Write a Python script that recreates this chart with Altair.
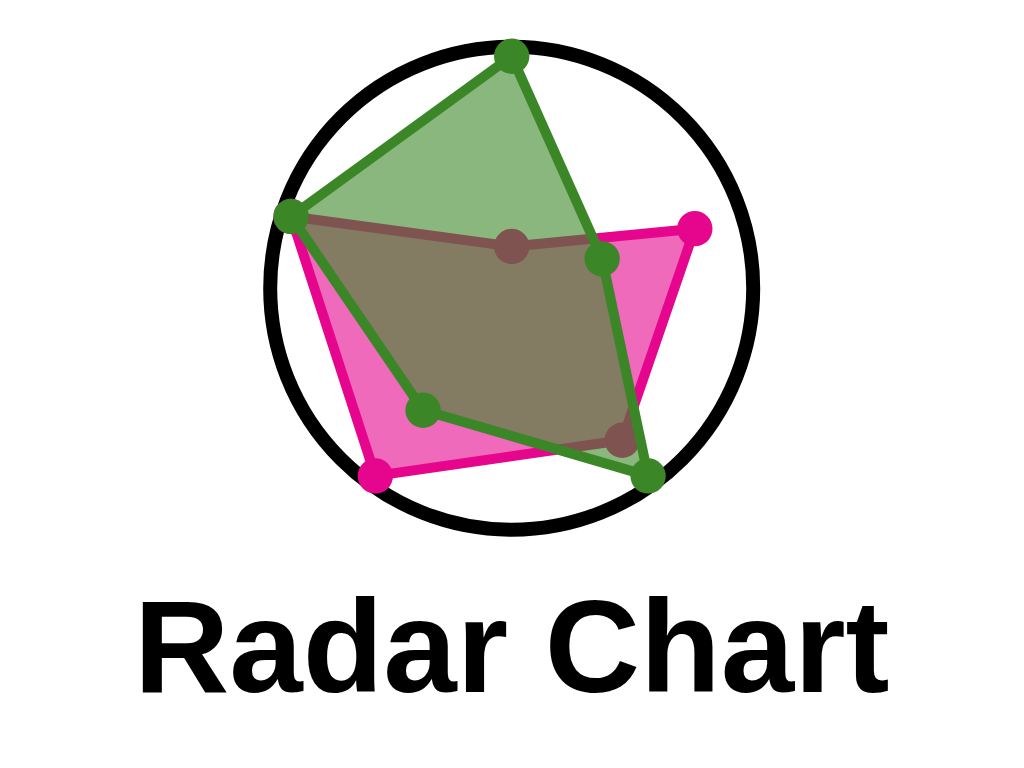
import altair as alt
import pandas as pd

# five spokes, numbered clockwise from the top
spokes = [0, 1, 2, 3, 4]
pink_values = [0.18, 0.83, 0.81, 1.0, 1.0]
green_values = [1.0, 0.41, 1.0, 0.65, 1.0]
title_text = ["Radar Chart"]

PINK = "#e6068e"
GREEN = "#3b8727"

df = pd.DataFrame(
    {
        "spoke": spokes * 2,
        "value": pink_values + green_values,
        "series": ["pink"] * 5 + ["green"] * 5,
    }
)

# centre and radius of the radar, in plot pixels
cx, cy, R = 503.7, 280.2, 232
x_scale = alt.Scale(domain=[-1, 1], range=[cx - R, cx + R])
y_scale = alt.Scale(domain=[-1, 1], range=[cy + R, cy - R])

X = alt.X("px:Q", scale=x_scale, axis=None)
Y = alt.Y("py:Q", scale=y_scale, axis=None)

base = alt.Chart(df).transform_calculate(
    px="datum.value * sin(datum.spoke * 2 * PI / 5)",
    py="datum.value * cos(datum.spoke * 2 * PI / 5)",
)


def radar(name, color, fill_opacity):
    s = base.transform_filter(alt.datum.series == name)
    shape = s.mark_line(
        interpolate="linear-closed",
        stroke=color,
        strokeWidth=10,
        strokeJoin="round",
        fill=color,
        fillOpacity=fill_opacity,
    ).encode(x=X, y=Y, order="spoke:Q")
    dots = s.mark_circle(size=1250, color=color, opacity=1).encode(x=X, y=Y)
    return shape + dots


ring = (
    alt.Chart(pd.DataFrame({"px": [0], "py": [0]}))
    .mark_point(
        shape="circle",
        filled=False,
        stroke="black",
        strokeWidth=14,
        size=(2 * 241.5) ** 2,
        opacity=1,
    )
    .encode(x=X, y=Y)
)

title = (
    alt.Chart(pd.DataFrame({"label": title_text}))
    .mark_text(
        font="Liberation Sans",
        fontWeight="bold",
        fontSize=132,
        align="center",
        baseline="alphabetic",
        color="black",
    )
    .encode(text="label:N", x=alt.value(cx), y=alt.value(683.7))
)

chart = (
    alt.layer(ring, radar("pink", PINK, 0.6), radar("green", GREEN, 0.6), title)
    .properties(
        width=1008,
        height=752,
        autosize=alt.AutoSizeParams(type="none"),
        padding=0,
        background="white",
    )
    .configure_view(stroke=None)
)

chart.save("out.html", embed_options={"renderer": "svg", "actions": False})
